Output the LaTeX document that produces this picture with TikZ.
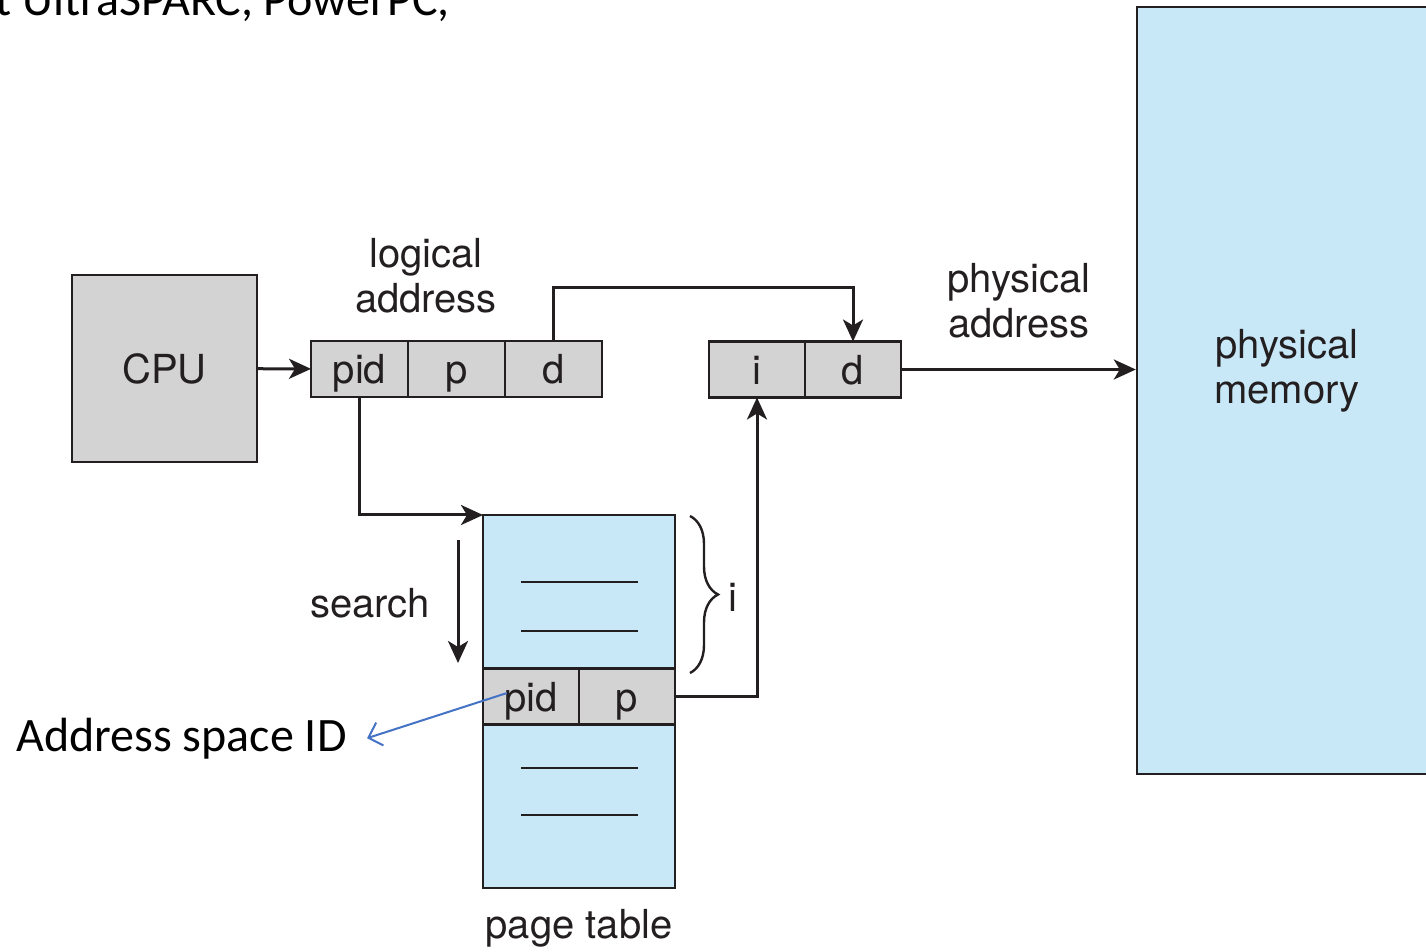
\documentclass[tikz,border=0pt]{standalone}
\usepackage{fontspec}
\setmainfont{TeX Gyre Heros}
\newfontfamily\slidefont{Carlito}
\usetikzlibrary{arrows.meta,positioning,decorations.pathreplacing}
\definecolor{memblue}{RGB}{200,232,248}
\definecolor{cellgray}{RGB}{211,211,211}
\definecolor{ink}{RGB}{35,31,32}
\definecolor{noteblue}{RGB}{68,114,196}

\begin{document}
\begin{tikzpicture}[x=0.5pt,y=-0.5pt,>={Stealth[length=11pt,width=10pt,inset=3pt]},
  every node/.style={align=center,text=ink,font=\fontsize{20}{22.5}\selectfont},
  cell/.style={draw=ink,fill=cellgray,line width=1.2pt,minimum width=48.5pt,minimum height=28pt,
    inner sep=0pt,outer sep=0pt,text height=15pt,text depth=0pt},
  link/.style={draw=ink,line width=1.5pt,->},
  slide/.style={font=\slidefont\fontsize{24}{28}\selectfont,text=black,inner sep=0pt}]
\useasboundingbox (0,0) rectangle (1426,952);
\node[slide,anchor=base west] (cut) at (-5,16) {t UltraSPARC, PowerPC,};

\node[draw=ink,fill=cellgray,line width=1.2pt,minimum width=92.5pt,minimum height=93.5pt] (cpu) at (164.5,368.5) {CPU};
\node[cell] (pid) at (359.5,369) {pid};
\node[cell,right=0pt of pid] (p) {p};
\node[cell,right=0pt of p] (d) {d};
\node (logaddr) at (426,276) {logical\\address};

\node[cell,minimum width=48pt] (i) at (757,369.5) {i};
\node[cell,minimum width=48pt,right=0pt of i] (d2) {d};
\node (phyaddr) at (1019,301) {physical\\address};

\node[draw=ink,fill=memblue,line width=1.2pt,minimum width=152pt,minimum height=383.5pt] (mem) at (1289,390.5) {};
\node (memlabel) at (1287,371) {physical\\memory};

% page table
\node[draw=ink,fill=memblue,line width=1.2pt,outer sep=0pt,minimum width=96pt,minimum height=186.5pt] (ptab) at (579,701.5) {};
\node[cell,minimum width=48pt] (ptpid) at (531,696.5) {pid};
\node[cell,minimum width=48pt,right=0pt of ptpid] (ptp) {p};
\foreach \y in {582,631,768,815}
  \draw[ink,line width=1.2pt] (521,\y) -- (638,\y);
\node (ptlabel) at (579,928) {page table};
\draw[ink,line width=1.2pt,decorate,decoration={brace,amplitude=14pt}] (690,516) -- (690,673);
\node (ilabel) at (733,597) {i};

\coordinate (s1) at (458,540);
\coordinate (s2) at (458,663);
\draw[link] (s1) -- (s2);
\node[anchor=east] (search) at (437,603) {search};

\draw[link] (cpu) -- (pid);
\draw[link] (d.north) -- ++(0,-53) -| (d2.north);
\draw[link] (pid.south) |- (ptab.north west);
\draw[link] (ptp.east) -| (i.south);
\draw[link] (d2.east) -- (d2.east -| mem.west);

\node[slide,anchor=base west] (asid) at (16,751) {Address space ID};
\coordinate (pidnote) at (507,693);
\draw[noteblue,line width=1pt,-{Straight Barb[length=6pt,width=12pt]}] (pidnote) -- ([xshift=10pt]asid.east);
\end{tikzpicture}
\end{document}
